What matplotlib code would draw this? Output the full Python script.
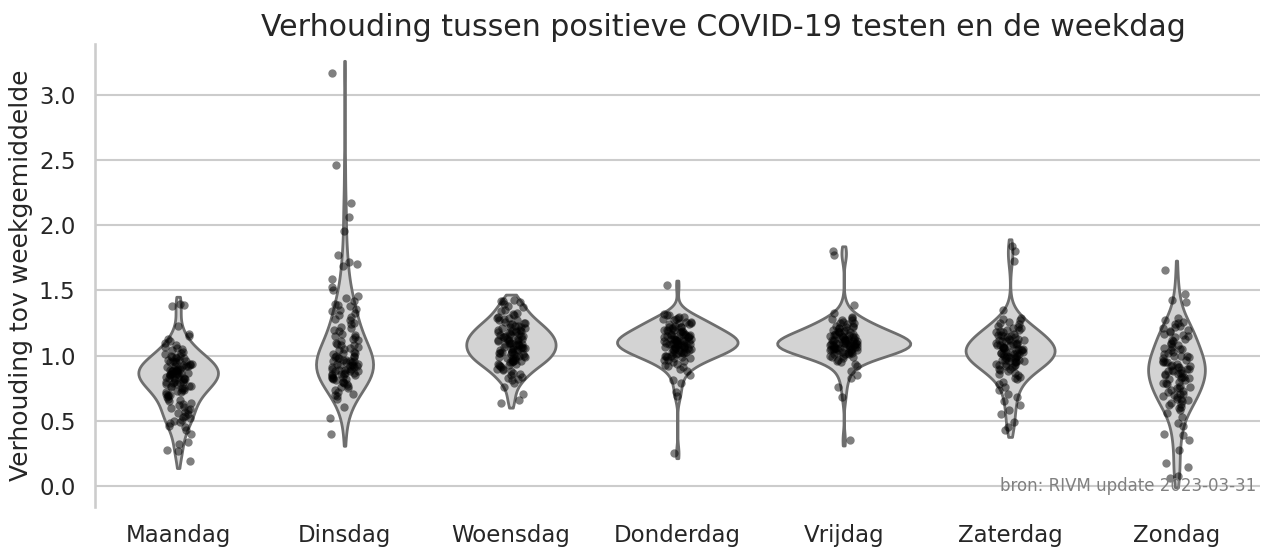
import numpy as np
import pandas as pd
import matplotlib
matplotlib.use("Agg")
import matplotlib.pyplot as plt
import seaborn as sns

np.random.seed(3)

dagen = ['Maandag', 'Dinsdag', 'Woensdag', 'Donderdag', 'Vrijdag', 'Zaterdag', 'Zondag']

maandag = [1.40, 1.39, 1.38, 1.23, 1.17, 1.15, 1.13, 1.11, 1.10, 1.08, 1.07, 1.06, 1.05, 1.04,
           1.03, 1.02, 1.01, 1.00, 1.00, 0.99, 0.99, 0.98, 0.98, 0.97, 0.97, 0.96, 0.96, 0.95,
           0.95, 0.94, 0.94, 0.93, 0.93, 0.92, 0.92, 0.91, 0.91, 0.90, 0.90, 0.89, 0.89, 0.89,
           0.88, 0.88, 0.88, 0.87, 0.87, 0.87, 0.86, 0.86, 0.86, 0.85, 0.85, 0.84, 0.84, 0.83,
           0.83, 0.82, 0.82, 0.81, 0.81, 0.80, 0.80, 0.79, 0.79, 0.78, 0.78, 0.77, 0.77, 0.76,
           0.75, 0.75, 0.74, 0.73, 0.72, 0.72, 0.71, 0.70, 0.69, 0.68, 0.67, 0.66, 0.65, 0.64,
           0.63, 0.62, 0.61, 0.60, 0.59, 0.58, 0.57, 0.56, 0.55, 0.54, 0.53, 0.52, 0.51, 0.50,
           0.49, 0.48, 0.46, 0.45, 0.43, 0.40, 0.34, 0.32, 0.28, 0.27, 0.19,
           0.92, 0.90, 0.87, 0.85, 0.83, 0.80, 0.77, 0.74, 0.70, 0.95]
dinsdag = [3.17, 2.46, 2.17, 2.06, 1.96, 1.77, 1.72, 1.70, 1.69, 1.59, 1.53, 1.50, 1.46, 1.44,
           1.42, 1.40, 1.39, 1.38, 1.36, 1.35, 1.34, 1.33, 1.31, 1.30, 1.28, 1.27, 1.25, 1.24,
           1.22, 1.21, 1.20, 1.19, 1.17, 1.16, 1.15, 1.14, 1.13, 1.12, 1.11, 1.10, 1.09, 1.08,
           1.07, 1.06, 1.05, 1.04, 1.03, 1.02, 1.01, 1.00, 1.00, 0.99, 0.98, 0.98, 0.97, 0.97,
           0.96, 0.96, 0.95, 0.95, 0.94, 0.94, 0.93, 0.93, 0.92, 0.92, 0.91, 0.91, 0.90, 0.90,
           0.89, 0.89, 0.88, 0.88, 0.87, 0.87, 0.86, 0.86, 0.85, 0.85, 0.84, 0.84, 0.83, 0.82,
           0.82, 0.81, 0.80, 0.79, 0.78, 0.77, 0.76, 0.75, 0.74, 0.72, 0.71, 0.70, 0.69, 0.67,
           0.61, 0.52, 0.40,
           1.02, 0.99, 0.96, 0.93, 0.90, 0.88, 0.86, 0.83, 0.80, 1.08]
woensdag = [1.43, 1.42, 1.42, 1.41, 1.40, 1.38, 1.37, 1.35, 1.34, 1.33, 1.32, 1.31, 1.30, 1.29,
            1.29, 1.28, 1.27, 1.27, 1.26, 1.25, 1.25, 1.24, 1.23, 1.23, 1.22, 1.22, 1.21, 1.20,
            1.20, 1.19, 1.19, 1.18, 1.18, 1.17, 1.17, 1.16, 1.16, 1.15, 1.15, 1.14, 1.14, 1.13,
            1.13, 1.12, 1.12, 1.11, 1.11, 1.10, 1.10, 1.10, 1.09, 1.09, 1.08, 1.08, 1.07, 1.07,
            1.06, 1.06, 1.05, 1.05, 1.04, 1.04, 1.03, 1.03, 1.02, 1.02, 1.01, 1.01, 1.00, 1.00,
            0.99, 0.99, 0.98, 0.98, 0.97, 0.97, 0.96, 0.96, 0.95, 0.95, 0.94, 0.93, 0.93, 0.92,
            0.91, 0.90, 0.90, 0.89, 0.88, 0.87, 0.86, 0.85, 0.84, 0.83, 0.82, 0.81, 0.79, 0.76,
            0.71, 0.66, 0.64,
            1.24, 1.21, 1.18, 1.15, 1.13, 1.11, 1.09, 1.07, 1.05, 1.03, 1.01, 0.98, 0.96, 0.94,
            1.19, 1.12, 1.06, 1.00]
donderdag = [1.54, 1.32, 1.31, 1.31, 1.30, 1.30, 1.29, 1.28, 1.28, 1.27, 1.26, 1.26, 1.25, 1.24,
             1.24, 1.23, 1.22, 1.22, 1.21, 1.21, 1.20, 1.20, 1.19, 1.19, 1.18, 1.18, 1.17, 1.17,
             1.16, 1.16, 1.15, 1.15, 1.15, 1.14, 1.14, 1.13, 1.13, 1.13, 1.12, 1.12, 1.12, 1.11,
             1.11, 1.11, 1.10, 1.10, 1.10, 1.09, 1.09, 1.09, 1.08, 1.08, 1.08, 1.07, 1.07, 1.07,
             1.06, 1.06, 1.05, 1.05, 1.05, 1.04, 1.04, 1.03, 1.03, 1.02, 1.02, 1.01, 1.01, 1.00,
             1.00, 0.99, 0.99, 0.98, 0.97, 0.97, 0.96, 0.95, 0.94, 0.93, 0.92, 0.91, 0.90, 0.88,
             0.85, 0.81, 0.79, 0.72, 0.69, 0.25,
             1.25, 1.22, 1.20, 1.18, 1.16, 1.14, 1.12, 1.11, 1.10, 1.09, 1.08, 1.06, 1.04, 1.02,
             1.00, 1.17, 1.13, 1.07, 1.03, 0.98]
vrijdag = [1.80, 1.77, 1.39, 1.33, 1.30, 1.29, 1.28, 1.27, 1.27, 1.26, 1.25, 1.25, 1.24, 1.23,
           1.23, 1.22, 1.22, 1.21, 1.21, 1.20, 1.20, 1.19, 1.19, 1.18, 1.18, 1.17, 1.17, 1.16,
           1.16, 1.15, 1.15, 1.14, 1.14, 1.14, 1.13, 1.13, 1.13, 1.12, 1.12, 1.12, 1.11, 1.11,
           1.11, 1.10, 1.10, 1.10, 1.10, 1.09, 1.09, 1.09, 1.08, 1.08, 1.08, 1.07, 1.07, 1.07,
           1.06, 1.06, 1.06, 1.05, 1.05, 1.05, 1.04, 1.04, 1.03, 1.03, 1.02, 1.02, 1.01, 1.01,
           1.00, 1.00, 0.99, 0.98, 0.97, 0.96, 0.95, 0.94, 0.92, 0.88, 0.85, 0.83, 0.76, 0.68,
           0.35,
           1.18, 1.16, 1.14, 1.12, 1.11, 1.10, 1.09, 1.08, 1.07, 1.06, 1.05, 1.04, 1.03, 1.02,
           1.01, 1.13, 1.10, 1.07, 1.04, 0.99]
zaterdag = [1.84, 1.80, 1.73, 1.35, 1.29, 1.28, 1.27, 1.26, 1.25, 1.24, 1.23, 1.22, 1.21, 1.21,
            1.20, 1.20, 1.19, 1.18, 1.18, 1.17, 1.16, 1.16, 1.15, 1.14, 1.14, 1.13, 1.12, 1.12,
            1.11, 1.11, 1.10, 1.10, 1.09, 1.09, 1.08, 1.08, 1.07, 1.07, 1.06, 1.06, 1.05, 1.05,
            1.04, 1.04, 1.03, 1.03, 1.03, 1.02, 1.02, 1.01, 1.01, 1.00, 1.00, 0.99, 0.99, 0.98,
            0.98, 0.97, 0.97, 0.96, 0.96, 0.95, 0.95, 0.94, 0.93, 0.93, 0.92, 0.91, 0.90, 0.89,
            0.88, 0.87, 0.86, 0.85, 0.84, 0.83, 0.82, 0.80, 0.78, 0.76, 0.74, 0.71, 0.68, 0.65,
            0.62, 0.58, 0.55, 0.49, 0.45, 0.43,
            1.15, 1.12, 1.09, 1.06, 1.04, 1.02, 1.00, 0.98, 0.96, 0.94, 0.92, 0.90, 1.08, 1.01,
            0.97, 1.13]
zondag = [1.66, 1.47, 1.43, 1.41, 1.29, 1.27, 1.26, 1.25, 1.24, 1.23, 1.22, 1.21, 1.20, 1.19,
          1.18, 1.17, 1.16, 1.15, 1.14, 1.13, 1.12, 1.11, 1.10, 1.09, 1.08, 1.07, 1.06, 1.05,
          1.04, 1.03, 1.02, 1.01, 1.00, 1.00, 0.99, 0.98, 0.97, 0.96, 0.95, 0.95, 0.94, 0.93,
          0.92, 0.92, 0.91, 0.90, 0.90, 0.89, 0.89, 0.88, 0.88, 0.87, 0.86, 0.86, 0.85, 0.84,
          0.84, 0.83, 0.82, 0.81, 0.80, 0.79, 0.78, 0.77, 0.76, 0.75, 0.74, 0.73, 0.72, 0.71,
          0.70, 0.69, 0.68, 0.67, 0.66, 0.65, 0.64, 0.63, 0.62, 0.61, 0.60, 0.58, 0.56, 0.53,
          0.48, 0.46, 0.40, 0.39, 0.35, 0.28, 0.18, 0.15, 0.08, 0.06,
          1.05, 1.00, 0.95, 0.91, 0.87, 0.83, 0.79, 0.75, 0.71, 0.67]

waarden = [maandag, dinsdag, woensdag, donderdag, vrijdag, zaterdag, zondag]
df = pd.DataFrame({
    'dag': [d for d, w in zip(dagen, waarden) for _ in w],
    'ratio': [v for w in waarden for v in w],
})

sns.set_theme(style='whitegrid', context='talk')

fig, ax = plt.subplots(figsize=(12.66, 5.56), dpi=100)
fig.subplots_adjust(left=0.075, right=0.995, top=0.921, bottom=0.088)

sns.violinplot(data=df, x='dag', y='ratio', order=dagen, color='lightgrey',
               inner=None, cut=0.6, linewidth=2, linecolor='#6e6e6e', ax=ax)
sns.stripplot(data=df, x='dag', y='ratio', order=dagen, color='black',
              alpha=0.5, size=6, jitter=0.085, ax=ax)

ax.set_ylim(-0.161, 3.391)
ax.set_xlim(-0.5, 6.5)
ax.set_xlabel('')
ax.set_ylabel('Verhouding tov weekgemiddelde', fontsize=18)
ax.set_title('Verhouding tussen positieve COVID-19 testen en de weekdag',
             fontsize=21.6, x=0.54)
ax.grid(axis='x', visible=False)
ax.tick_params(axis='y', pad=5)
ax.tick_params(axis='x', pad=3)
sns.despine(ax=ax, bottom=True)

ax.text(6.48, 0.0, 'bron: RIVM update 2023-03-31', ha='right', va='center',
        fontsize=12, color='grey')

fig.savefig('out.png', dpi=100)
